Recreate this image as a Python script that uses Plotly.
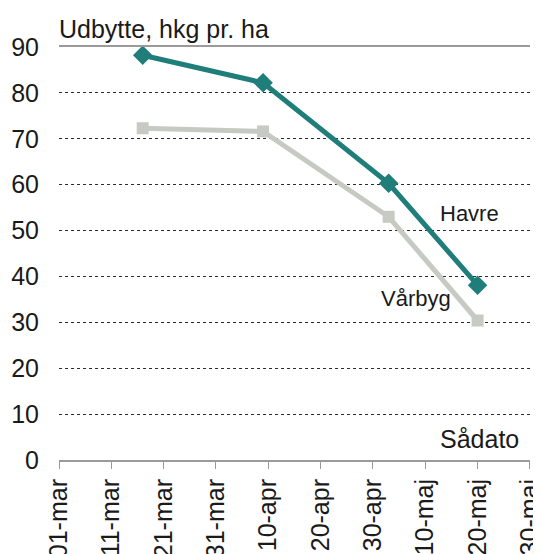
import plotly.graph_objects as go

sow_dates = ["2023-03-17", "2023-04-09", "2023-05-03", "2023-05-20"]
havre = [88.2, 82.2, 60.3, 38.1]
vaarbyg = [72.3, 71.6, 53.0, 30.4]

tick_dates = ["2023-03-01", "2023-03-11", "2023-03-21", "2023-03-31", "2023-04-10",
              "2023-04-20", "2023-04-30", "2023-05-10", "2023-05-20", "2023-05-30"]
tick_labels = ["01-mar", "11-mar", "21-mar", "31-mar", "10-apr",
               "20-apr", "30-apr", "10-maj", "20-maj", "30-maj"]
y_ticks = [0, 10, 20, 30, 40, 50, 60, 70, 80, 90]

FONT = "Liberation Sans, Arial, sans-serif"
FS = 25
TEAL = "#1f7d7a"
GREY = "#c7cac3"
TXT = "#1a1a1a"

fig = go.Figure()
fig.add_trace(go.Scatter(
    x=sow_dates, y=vaarbyg, mode="lines+markers", name="Vårbyg",
    line=dict(color=GREY, width=5),
    marker=dict(symbol="square", size=12, color=GREY),
))
fig.add_trace(go.Scatter(
    x=sow_dates, y=havre, mode="lines+markers", name="Havre",
    line=dict(color=TEAL, width=5),
    marker=dict(symbol="diamond", size=15, color=TEAL),
))

fig.update_layout(
    width=533, height=546,
    margin=dict(l=51, r=11, t=39, b=94),
    paper_bgcolor="white", plot_bgcolor="white",
    showlegend=False,
    font=dict(family=FONT, size=FS, color=TXT),
    xaxis=dict(
        type="date",
        range=["2023-03-01", "2023-05-30 00:30"],
        tickvals=tick_dates, ticktext=tick_labels,
        tickangle=-90,
        ticklabeloverflow="allow",
        showgrid=False,
        showline=True, linecolor="#9a9a9a", linewidth=2, mirror=True,
        ticks="outside", ticklen=7, tickcolor="#9a9a9a", tickwidth=1,
        tickfont=dict(family=FONT, size=FS, color=TXT),
        zeroline=False, automargin=False,
    ),
    yaxis=dict(
        range=[0, 90],
        tickvals=y_ticks,
        showgrid=True, gridcolor="#2a2a2a", gridwidth=1, griddash="dot",
        zeroline=False,
        showline=False,
        ticks="", ticklabelstandoff=19,
        tickfont=dict(family=FONT, size=FS, color=TXT),
        automargin=False,
    ),
    annotations=[
        dict(text="Udbytte, hkg pr. ha", xref="paper", yref="paper",
             x=0.0, y=1.0, xanchor="left", yanchor="bottom", showarrow=False,
             font=dict(family=FONT, size=FS, color=TXT), xshift=-2, yshift=2),
        dict(text="Havre", xref="paper", yref="paper",
             x=0.8705, y=0.597, xanchor="center", yanchor="middle", showarrow=False,
             font=dict(family=FONT, size=22, color=TXT)),
        dict(text="Vårbyg", xref="paper", yref="paper",
             x=0.758, y=0.39, xanchor="center", yanchor="middle", showarrow=False,
             font=dict(family=FONT, size=22, color=TXT)),
        dict(text="Sådato", xref="paper", yref="paper",
             x=0.98, y=0.05, xanchor="right", yanchor="middle", showarrow=False,
             font=dict(family=FONT, size=FS, color=TXT)),
    ],
)

fig.write_html("out.html")
